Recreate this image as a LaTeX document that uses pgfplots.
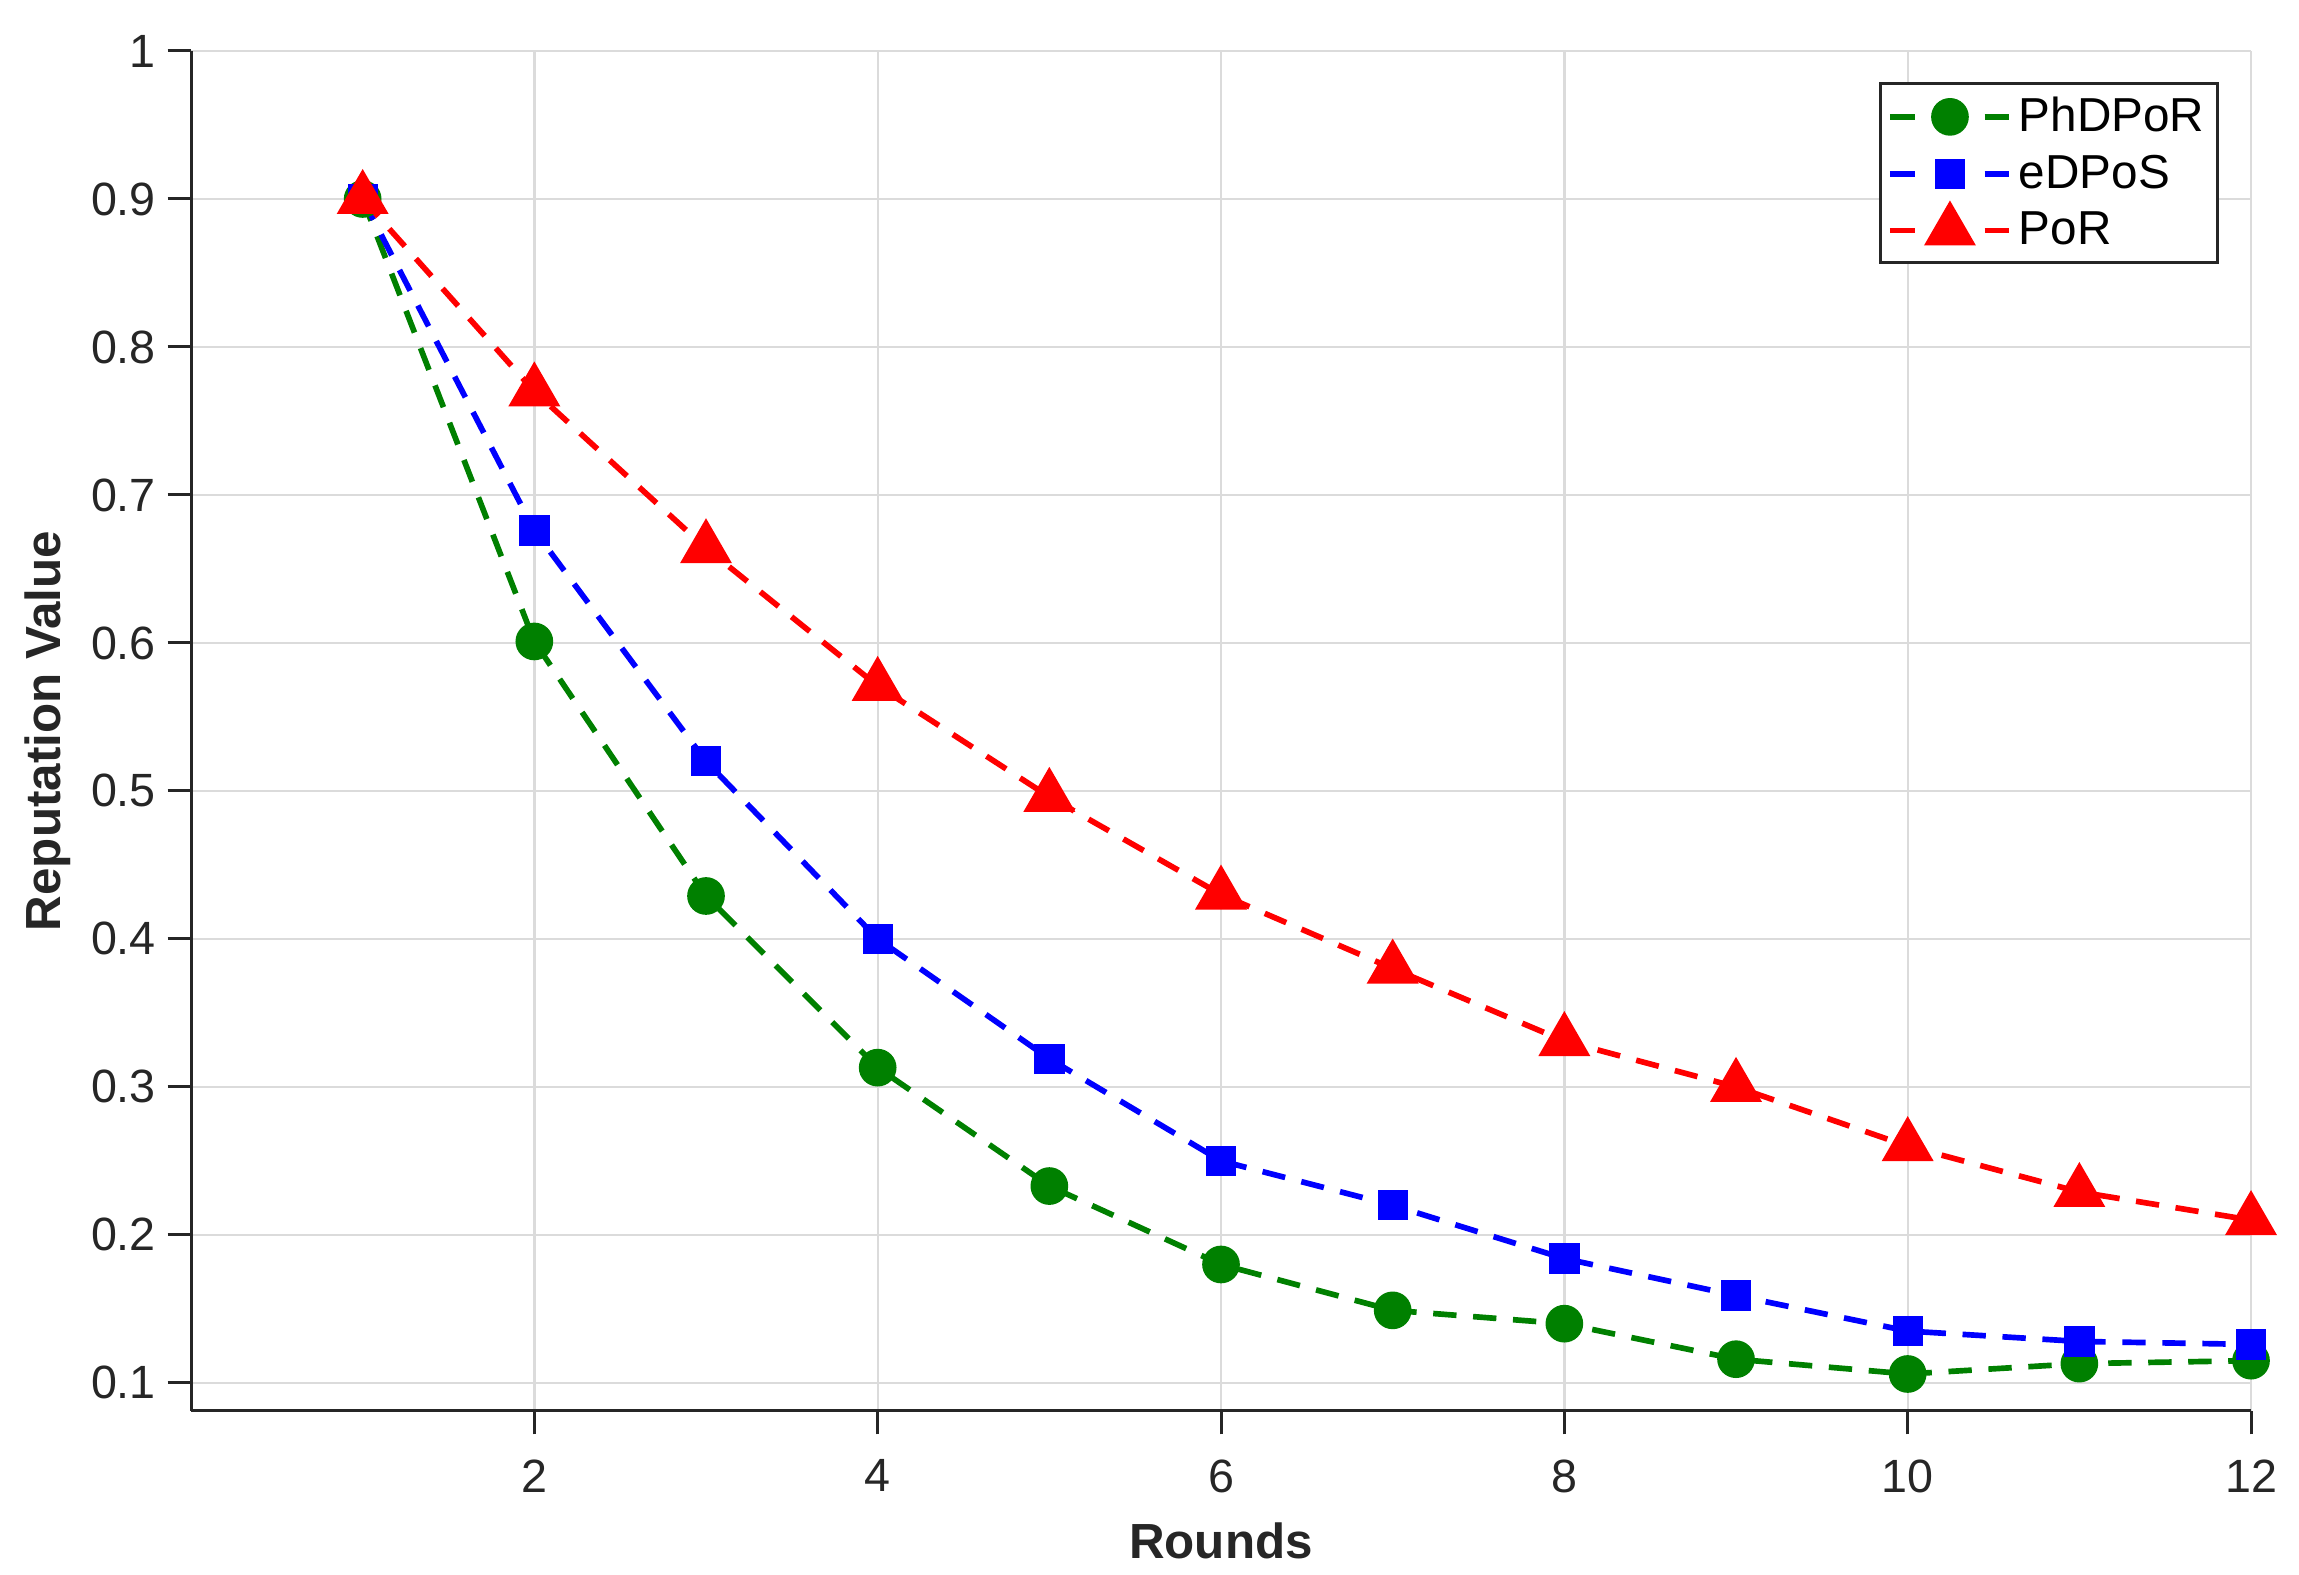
\documentclass[border=0pt]{standalone}
\usepackage{fontspec}
\setmainfont{Liberation Sans}
\usepackage{pgfplots}
\pgfplotsset{compat=1.18}
\definecolor{mgreen}{RGB}{0,128,0}
\definecolor{axgray}{RGB}{38,38,38}
\begin{document}
\begin{tikzpicture}
\useasboundingbox (-57.3pt,-49.2pt) rectangle (632.4pt,423.3pt);
\begin{axis}[
  at={(0pt,0pt)}, anchor=south west,
  scale only axis, width=618pt, height=408pt,
  xmin=0, xmax=12, ymin=0.081, ymax=1,
  xtick={2,4,6,8,10,12},
  ytick={0.1,0.2,0.3,0.4,0.5,0.6,0.7,0.8,0.9,1},
  yticklabels={0.1,0.2,0.3,0.4,0.5,0.6,0.7,0.8,0.9,1},
  axis x line*=bottom, axis y line*=left,
  axis line style={axgray, line width=0.9pt, -},
  tick align=outside, major tick length=7pt,
  tick style={axgray, line width=0.9pt},
  grid=major, grid style={gray!28, line width=0.7pt},
  /pgf/number format/assume math mode=true,
  tick label style={font=\fontsize{14}{16}\selectfont, text=axgray},
  xticklabel style={yshift=-4pt},
  xlabel={\textbf{Rounds}}, ylabel={\textbf{Reputation Value}},
  label style={font=\fontsize{14.8}{17}\selectfont, text=axgray},
  xlabel style={at={(axis description cs:0.5,-0.0956)}, anchor=center},
  ylabel style={at={(axis description cs:-0.0696,0.5)}, anchor=center},
  legend style={at={(0.9845,0.977)}, anchor=north east, draw=axgray, line width=0.9pt,
    font=\fontsize{14.3}{17}\selectfont, row sep=1.5pt, inner sep=2pt},
  legend cell align=left,
  legend image code/.code={
    \draw[#1,solid] (0pt,0pt) -- (7.4pt,0pt);
    \draw[#1,solid] (28.4pt,0pt) -- (35.8pt,0pt);
    \draw[#1] plot coordinates {(18pt,0pt)};
  },
  every axis plot/.append style={line width=1.7pt, dash pattern=on 7pt off 5pt},
]
\addplot[mgreen, mark=*, mark size=4.8pt, mark options={solid, fill=mgreen}] coordinates {
(1,0.9) (2,0.601) (3,0.429) (4,0.313) (5,0.233) (6,0.18) (7,0.149) (8,0.14) (9,0.116) (10,0.106) (11,0.113) (12,0.115)};
\addlegendentry{PhDPoR}
\addplot[blue, mark=square*, mark size=3.7pt, mark options={solid, fill=blue}] coordinates {
(1,0.9) (2,0.676) (3,0.52) (4,0.40) (5,0.319) (6,0.25) (7,0.22) (8,0.184) (9,0.159) (10,0.135) (11,0.128) (12,0.126)};
\addlegendentry{eDPoS}
\addplot[red, mark=triangle*, mark size=7.3pt, mark options={solid, fill=red}] coordinates {
(1,0.9) (2,0.77) (3,0.664) (4,0.571) (5,0.496) (6,0.43) (7,0.38) (8,0.331) (9,0.30) (10,0.26) (11,0.229) (12,0.21)};
\addlegendentry{PoR}
\end{axis}
\end{tikzpicture}
\end{document}
